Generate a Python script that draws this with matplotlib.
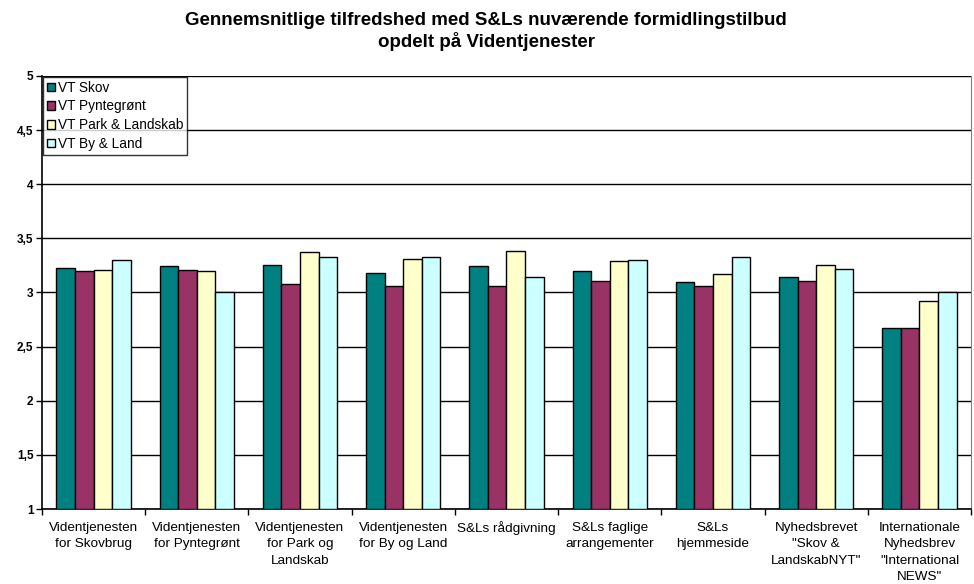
import numpy as np
import matplotlib
matplotlib.use("Agg")
import matplotlib.pyplot as plt
from matplotlib.ticker import FuncFormatter

plt.rcParams['font.family'] = ['Liberation Sans', 'DejaVu Sans']

# kategorier og værdier
categories = [
    "Videntjenesten\nfor Skovbrug",
    "Videntjenesten\nfor Pyntegrønt",
    "Videntjenesten\nfor Park og\nLandskab",
    "Videntjenesten\nfor By og Land",
    "S&Ls rådgivning",
    "S&Ls faglige\narrangementer",
    "S&Ls\nhjemmeside",
    "Nyhedsbrevet\n\"Skov &\nLandskabNYT\"",
    "Internationale\nNyhedsbrev\n\"International\nNEWS\"",
]
series_names = ["VT Skov", "VT Pyntegrønt", "VT Park & Landskab", "VT By & Land"]
vt_skov = [3.23, 3.24, 3.25, 3.18, 3.24, 3.20, 3.10, 3.14, 2.67]
vt_pyntegroent = [3.20, 3.21, 3.08, 3.06, 3.06, 3.11, 3.06, 3.11, 2.67]
vt_park = [3.21, 3.20, 3.37, 3.31, 3.38, 3.29, 3.17, 3.25, 2.92]
vt_by = [3.30, 3.00, 3.33, 3.33, 3.14, 3.30, 3.33, 3.22, 3.00]
colors = ["#008080", "#993366", "#FFFFCC", "#CCFFFF"]

fig = plt.figure(figsize=(9.74, 5.84), dpi=100)
ax = fig.add_axes([0.043, 0.1284, 0.954, 0.7416])

x = np.arange(len(categories))
w = 0.18
all_series = [vt_skov, vt_pyntegroent, vt_park, vt_by]
for i, (vals, name, col) in enumerate(zip(all_series, series_names, colors)):
    ax.bar(x + (i - 1.5) * w, np.array(vals) - 1, width=w, bottom=1,
           color=col, edgecolor="black", linewidth=1.0, label=name, zorder=3)

ax.set_ylim(1, 5)
ax.set_xlim(-0.5, len(categories) - 0.5)
ax.set_yticks(np.arange(1, 5.01, 0.5))
ax.yaxis.set_major_formatter(FuncFormatter(lambda v, p: f"{v:g}".replace(".", ",")))
for lab in ax.get_yticklabels():
    lab.set_fontweight("bold")
ax.tick_params(axis="y", labelsize=8.5, length=4, direction="out", width=1, pad=2)
ax.grid(axis="y", color="black", linewidth=1.0, zorder=0)

# kategorietiketter mellem tick-streger
ax.set_xticks(np.arange(-0.5, len(categories) + 0.5, 1))
ax.set_xticklabels([])
ax.set_xticks(x, minor=True)
ax.set_xticklabels(categories, minor=True, fontsize=9.7, linespacing=1.5)
ax.tick_params(axis="x", which="major", length=4, direction="out", width=1)
ax.tick_params(axis="x", which="minor", length=0, pad=9)

for s in ["left", "bottom"]:
    ax.spines[s].set_color("black")
    ax.spines[s].set_linewidth(1.2)
ax.spines["top"].set_visible(False)
ax.spines["right"].set_color("#808080")

leg = ax.legend(loc="upper left", bbox_to_anchor=(0.0, 1.0), fontsize=9.8,
                frameon=True, fancybox=False, edgecolor="black",
                handlelength=0.6, handleheight=0.6, handletextpad=0.2,
                borderpad=0.3, labelspacing=0.35, borderaxespad=0.05)
leg.get_frame().set_linewidth(1.0)

fig.text(0.499, 0.979, "Gennemsnitlige tilfredshed med S&Ls nuværende formidlingstilbud\nopdelt på Videntjenester",
         ha="center", va="top", fontsize=13.5, fontweight="bold", linespacing=1.2)

fig.savefig("out.png", dpi=100)
